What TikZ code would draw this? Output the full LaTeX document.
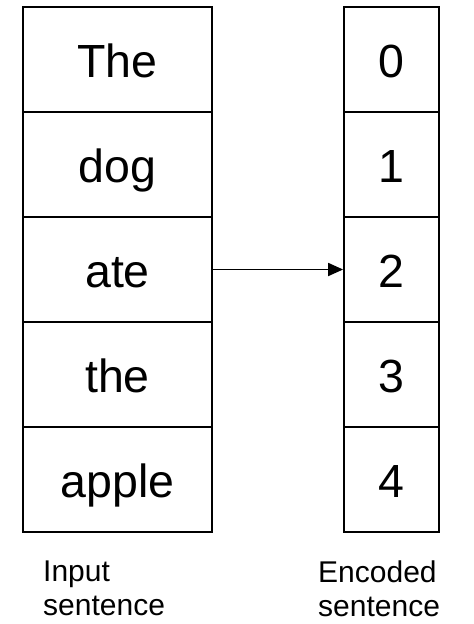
\documentclass[tikz,border=0pt]{standalone}
\usepackage{fontspec}
\setmainfont{Liberation Sans}
\usetikzlibrary{arrows.meta}
\begin{document}
\begin{tikzpicture}[x=1pt,y=-1pt,
  cell/.style={draw,line width=1.8pt,minimum height=105pt,inner sep=0pt,
    text height=35pt,text depth=0pt,
    font=\fontsize{46.5}{52}\selectfont},
  wordcell/.style={cell,minimum width=189pt},
  numcell/.style={cell,minimum width=95pt},
  caption/.style={anchor=north west,align=left,inner sep=0pt,
    font=\fontsize{30}{34}\selectfont}]
\useasboundingbox (0,0) rectangle (474,624);
% left column: input words
\foreach \w [count=\i from 0] in {The,dog,ate,the,apple}
  \node[wordcell] (w\i) at (117.5,{59.5+105*\i}) {\w};
% right column: encoded indices
\foreach \i in {0,...,4}
  \node[numcell] (n\i) at (391.5,{59.5+105*\i}) {\i};
% mapping arrow
\draw[line width=1.8pt,-{Triangle[length=15pt,width=13pt]}] (w2.east) -- (n2.west);
% captions
\node[caption] (capin) at (43,561) {Input\\sentence};
\node[caption] (capenc) at (318,561) {Encoded\\sentence};
\end{tikzpicture}
\end{document}
